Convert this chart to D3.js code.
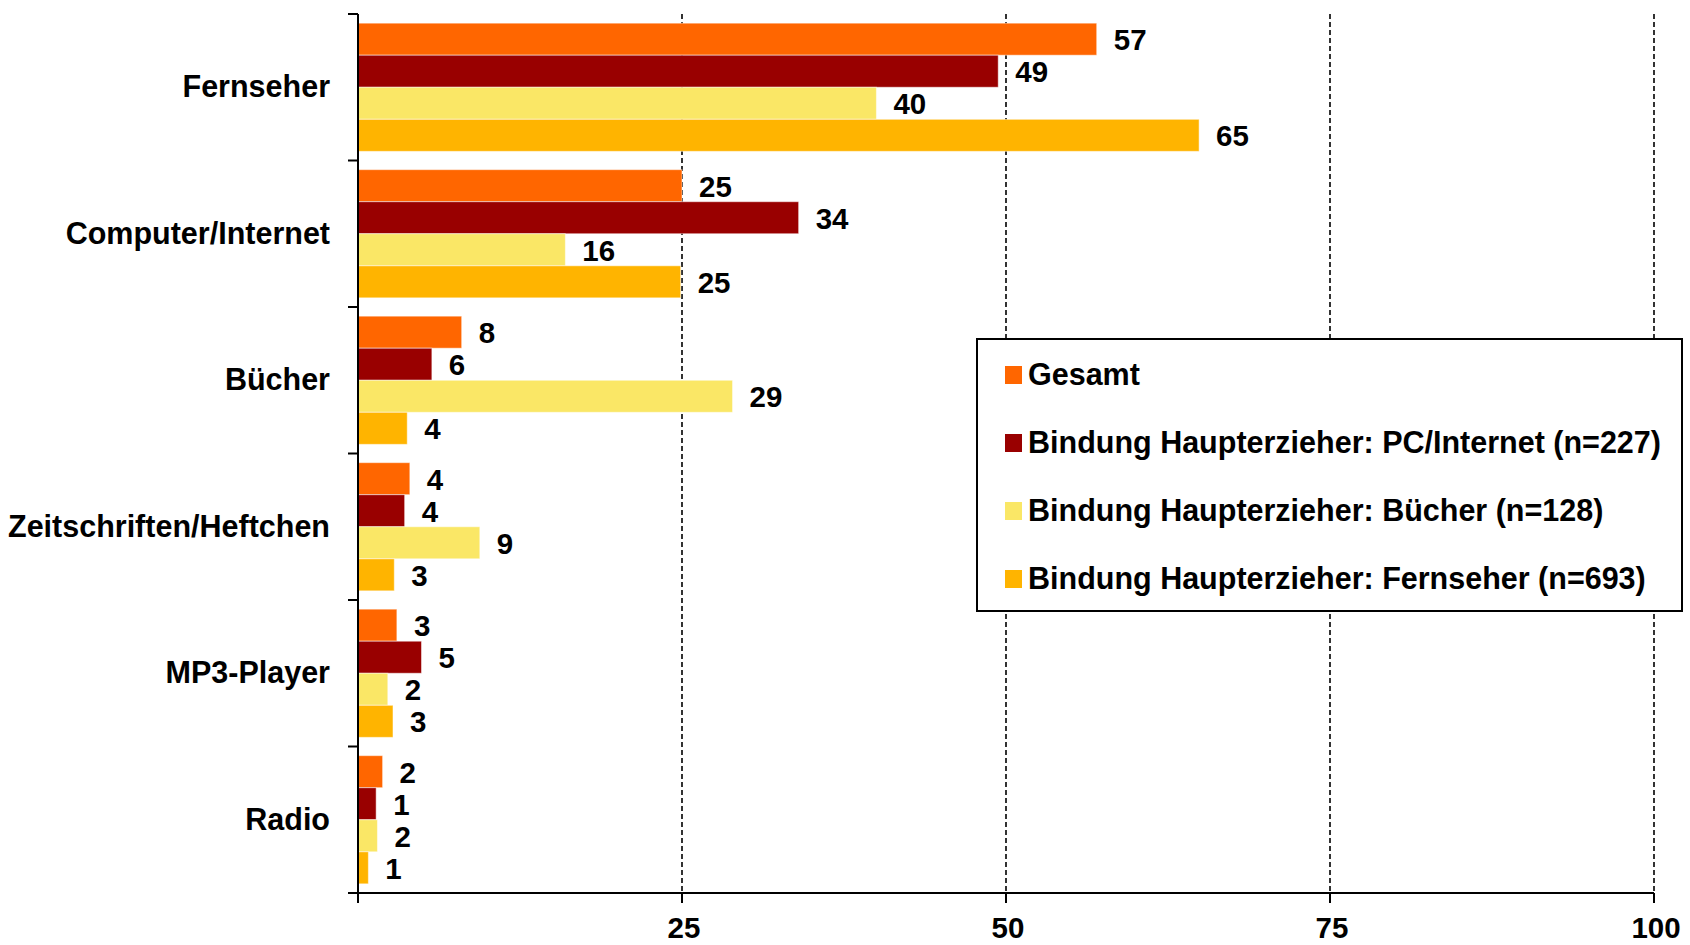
<!DOCTYPE html>
<html><head><meta charset="utf-8">
<script src="https://cdn.jsdelivr.net/npm/d3@7"></script>
<style>
html,body{margin:0;padding:0;background:#fff;}
text{font-family:"Liberation Sans",Arial,sans-serif;font-weight:bold;fill:#000;}
</style></head>
<body><svg id="chart" width="1690" height="945"></svg>
<script>
const categories = ["Fernseher","Computer/Internet","Bücher","Zeitschriften/Heftchen","MP3-Player","Radio"];
const seriesNames = ["Gesamt","Bindung Haupterzieher: PC/Internet (n=227)","Bindung Haupterzieher: Bücher (n=128)","Bindung Haupterzieher: Fernseher (n=693)"];
const gesamt    = [57, 25, 8,   4,   3,   1.9];
const pcInternet= [49.4, 34, 5.7, 3.6, 4.9, 1.4];
const buecher   = [40, 16, 28.9, 9.4, 2.3, 1.5];
const fernseher = [64.9, 24.9, 3.8, 2.8, 2.7, 0.8];
const colors = ["#FF6600","#990000","#FAE766","#FFB400"];
const xTicks = [25, 50, 75, 100];

(function(){
const series = [gesamt, pcInternet, buecher, fernseher];
const svg = d3.select("#chart");
const pLeft = 358, pRight = 1654, pTop = 14, pBottom = 893;

const x = d3.scaleLinear().domain([0,100]).range([pLeft,pRight]);
const y = d3.scaleBand().domain(categories).range([pTop,pBottom]).paddingInner(0.125).paddingOuter(0.0625);
const y0 = d3.scaleBand().domain(categories).range([pTop,pBottom]).padding(0);
const ys = d3.scaleBand().domain(d3.range(series.length)).range([0,y.bandwidth()]);

// gridlines
svg.append("g").selectAll("line").data(xTicks).join("line")
  .attr("x1",d=>x(d)).attr("x2",d=>x(d)).attr("y1",pTop).attr("y2",pBottom)
  .attr("stroke","#000").attr("stroke-width",1.6).attr("stroke-dasharray","5,3");

// bars
const g = svg.append("g");
categories.forEach((c,ci)=>{
  series.forEach((s,si)=>{
    const v = s[ci];
    const yy = y(c)+ys(si);
    g.append("rect").attr("x",x(0)).attr("y",yy).attr("width",x(v)-x(0)).attr("height",ys.bandwidth())
      .attr("fill",colors[si]).attr("stroke","rgba(255,255,255,0.5)").attr("stroke-width",1);
    g.append("text").attr("x",x(v)+17).attr("y",yy+ys.bandwidth()/2+11)
      .attr("font-size",29.5).text(Math.round(v));
  });
});

// y axis
const yAxis = svg.append("g");
yAxis.append("line").attr("x1",pLeft).attr("x2",pLeft).attr("y1",pTop).attr("y2",pBottom+10).attr("stroke","#000").attr("stroke-width",2);
const bounds = categories.map(c=>y0(c)).concat([pBottom]);
yAxis.selectAll("line.t").data(bounds).join("line").attr("class","t")
  .attr("x1",pLeft-10).attr("x2",pLeft).attr("y1",d=>d).attr("y2",d=>d).attr("stroke","#000").attr("stroke-width",2);
yAxis.selectAll("text").data(categories).join("text")
  .attr("x",pLeft-28).attr("y",d=>y0(d)+y0.bandwidth()/2+10).attr("text-anchor","end").attr("font-size",30.5).text(d=>d);

// x axis
const xAxis = svg.append("g");
xAxis.append("line").attr("x1",pLeft-10).attr("x2",pRight).attr("y1",pBottom).attr("y2",pBottom).attr("stroke","#000").attr("stroke-width",2);
xAxis.selectAll("line.t").data(xTicks).join("line").attr("class","t")
  .attr("x1",d=>x(d)).attr("x2",d=>x(d)).attr("y1",pBottom).attr("y2",pBottom+10).attr("stroke","#000").attr("stroke-width",2);
xAxis.selectAll("text").data(xTicks).join("text")
  .attr("x",d=>x(d)+2).attr("y",938).attr("text-anchor","middle").attr("font-size",29.5).text(d=>d);

// legend
const lg = svg.append("g");
lg.append("rect").attr("x",977).attr("y",339).attr("width",705).attr("height",272)
  .attr("fill","#fff").attr("stroke","#000").attr("stroke-width",2);
seriesNames.forEach((n,i)=>{
  const cy = 375 + i*68;
  lg.append("rect").attr("x",1005).attr("y",cy-9).attr("width",17).attr("height",18).attr("fill",colors[i]);
  lg.append("text").attr("x",1028).attr("y",cy+10).attr("font-size",30.5).text(n);
});
})();
</script></body></html>
